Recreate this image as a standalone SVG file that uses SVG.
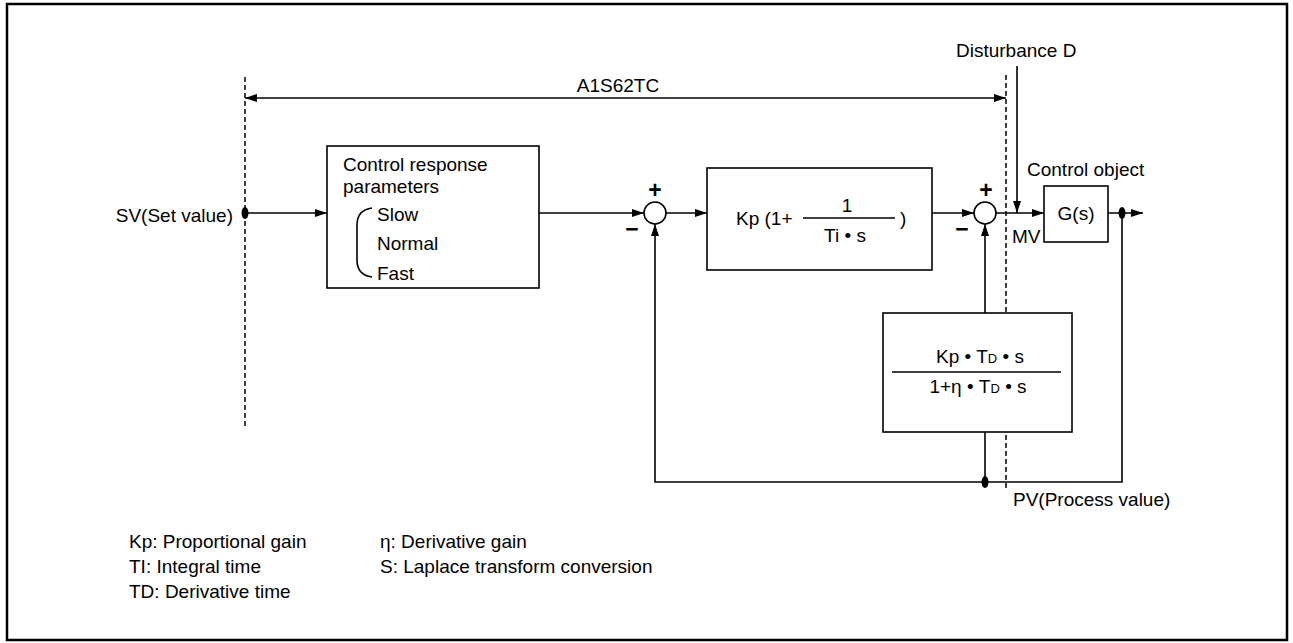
<svg xmlns="http://www.w3.org/2000/svg" width="1293" height="643" viewBox="0 0 1293 643">
<defs>
<marker id="ah" viewBox="0 0 12 8" refX="12" refY="4" markerWidth="12" markerHeight="8" markerUnits="userSpaceOnUse" orient="auto-start-reverse">
<path d="M0,0 L12,4 L0,8 Z" fill="#000"/>
</marker>
<style>
text{font-family:"Liberation Sans",Arial,sans-serif;font-size:19px;fill:#000}
.box{fill:#fff;stroke:#000;stroke-width:1.6}
.ln{fill:none;stroke:#000;stroke-width:1.6}
.dash{fill:none;stroke:#000;stroke-width:1.5;stroke-dasharray:5 3}
.sub{font-size:13px}
.sign{font-size:23px;font-weight:bold}
</style>
</defs>
<rect width="1293" height="643" fill="#fff"/>
<rect x="7" y="4" width="1280" height="636" fill="none" stroke="#000" stroke-width="2.5"/>

<g id="boundary">
<line class="dash" x1="245" y1="77" x2="245" y2="428"/>
<line class="dash" x1="1006" y1="75" x2="1006" y2="488"/>
<line class="ln" x1="245" y1="98" x2="1006" y2="98" marker-start="url(#ah)" marker-end="url(#ah)"/>
<text x="618" y="92" text-anchor="middle">A1S62TC</text>
</g>

<g id="connectors">
<line class="ln" x1="245" y1="213" x2="327" y2="213" marker-end="url(#ah)"/>
<line class="ln" x1="539" y1="213" x2="644" y2="213" marker-end="url(#ah)"/>
<line class="ln" x1="666" y1="213" x2="707" y2="213" marker-end="url(#ah)"/>
<line class="ln" x1="932" y1="213" x2="974" y2="213" marker-end="url(#ah)"/>
<line class="ln" x1="996" y1="213" x2="1044" y2="213" marker-end="url(#ah)"/>
<line class="ln" x1="1017" y1="66" x2="1017" y2="213" marker-end="url(#ah)"/>
<line class="ln" x1="1108" y1="213" x2="1143" y2="213" marker-end="url(#ah)"/>
<polyline class="ln" points="1122,213 1122,482 655,482 655,224" marker-end="url(#ah)"/>
<line class="ln" x1="985" y1="313" x2="985" y2="224" marker-end="url(#ah)"/>
<line class="ln" x1="985" y1="432" x2="985" y2="482"/>
<ellipse cx="245" cy="213" rx="3.5" ry="6" fill="#000"/>
<ellipse cx="1122" cy="213" rx="3.5" ry="6" fill="#000"/>
<ellipse cx="985" cy="482" rx="3.5" ry="6" fill="#000"/>
</g>

<g id="sv">
<text x="233" y="222" text-anchor="end">SV(Set value)</text>
</g>

<g id="params">
<rect class="box" x="327" y="146" width="212" height="142"/>
<text x="343" y="171">Control response</text>
<text x="343" y="193">parameters</text>
<path class="ln" d="M372,208 Q357,210 357,225 L357,260 Q357,275 372,277"/>
<text x="377" y="221">Slow</text>
<text x="377" y="250">Normal</text>
<text x="377" y="280">Fast</text>
</g>

<g id="sum1">
<circle class="box" cx="655" cy="213" r="11"/>
<text class="sign" x="655" y="198" text-anchor="middle">+</text>
<text class="sign" x="632" y="237" text-anchor="middle">−</text>
</g>

<g id="pi">
<rect class="box" x="707" y="168" width="225" height="102"/>
<text x="736" y="225">Kp (1+</text>
<line class="ln" x1="803" y1="218" x2="895" y2="218"/>
<text x="847" y="212" text-anchor="middle">1</text>
<text x="845" y="242" text-anchor="middle">Ti • s</text>
<text x="900" y="225">)</text>
</g>

<g id="sum2">
<circle class="box" cx="985" cy="213" r="11"/>
<text class="sign" x="986" y="198" text-anchor="middle">+</text>
<text class="sign" x="962" y="237" text-anchor="middle">−</text>
</g>

<g id="disturbance">
<text x="956" y="57">Disturbance D</text>
<text x="1012" y="243">MV</text>
</g>

<g id="plant">
<text x="1027" y="176">Control object</text>
<rect class="box" x="1044" y="186" width="64" height="56"/>
<text x="1076" y="220" text-anchor="middle">G(s)</text>
</g>

<g id="derivative">
<rect class="box" x="883" y="313" width="189" height="119"/>
<text x="980" y="363" text-anchor="middle">Kp • T<tspan class="sub">D</tspan> • s</text>
<line class="ln" x1="892" y1="372" x2="1061" y2="372"/>
<text x="978" y="393" text-anchor="middle">1+η • T<tspan class="sub">D</tspan> • s</text>
</g>

<g id="pv">
<text x="1013" y="506">PV(Process value)</text>
</g>

<g id="legend">
<text x="129" y="548">Kp: Proportional gain</text>
<text x="129" y="573">TI: Integral time</text>
<text x="129" y="598">TD: Derivative time</text>
<text x="380" y="548">η: Derivative gain</text>
<text x="380" y="573">S: Laplace transform conversion</text>
</g>
</svg>
